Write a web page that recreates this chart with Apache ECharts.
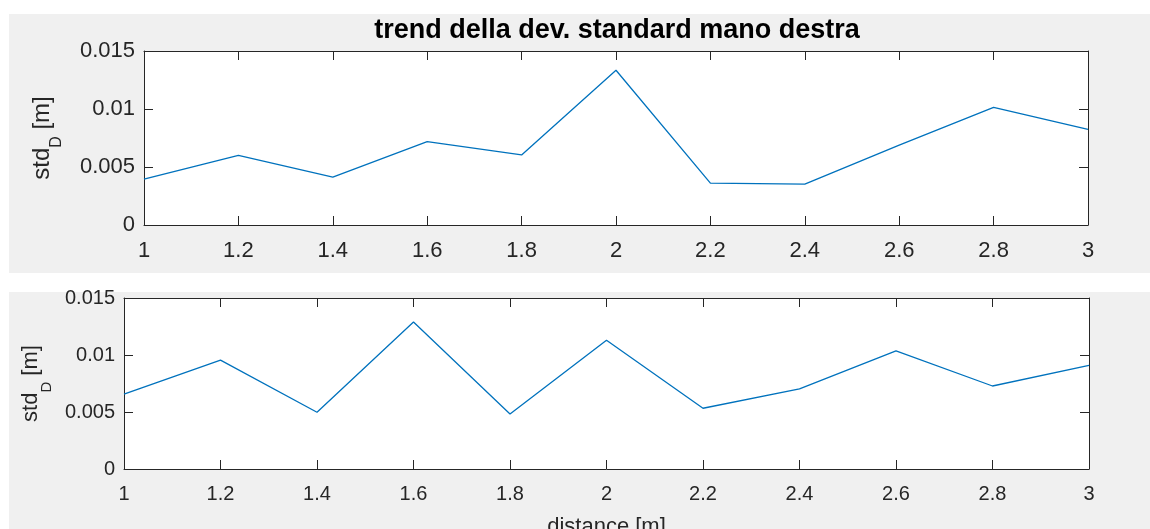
<!DOCTYPE html>
<html>
<head>
<meta charset="utf-8">
<script src="https://cdn.jsdelivr.net/npm/echarts@6/dist/echarts.min.js"></script>
<style>
html,body{margin:0;padding:0;background:#fff;}
#chart{width:1150px;height:529px;}
</style>
</head>
<body>
<div id="chart"></div>
<script>
// ---- data ----
const distances = [1, 1.2, 1.4, 1.6, 1.8, 2, 2.2, 2.4, 2.6, 2.8, 3];
const stdTop = [0.00395, 0.0060, 0.00412, 0.00718, 0.00604, 0.01334, 0.00361, 0.00352, 0.00689, 0.01014, 0.00825];
const stdBottom = [0.00656, 0.00955, 0.00498, 0.0129, 0.00483, 0.0113, 0.00533, 0.00702, 0.01037, 0.00728, 0.00909];
const xTickLabels = ['1', '1.2', '1.4', '1.6', '1.8', '2', '2.2', '2.4', '2.6', '2.8', '3'];
const yTickLabels = ['0', '0.005', '0.01', '0.015'];
const titleText = 'trend della dev. standard mano destra';
const xLabelText = 'distance [m]';

const FONT = '"Liberation Sans", Arial, Helvetica, sans-serif';
const AXC = '#262626';
const LINEC = '#0072BD';

function fmtX(v) {
  const i = Math.round((v - 1) / 0.2);
  return xTickLabels[i] !== undefined ? xTickLabels[i] : '';
}
function fmtY(v) {
  const i = Math.round(v / 0.005);
  return yTickLabels[i] !== undefined ? yTickLabels[i] : '';
}

function xAx(grid, pos, fs, showLabel, margin, name, nameGap) {
  return {
    type: 'value', gridIndex: grid, position: pos,
    min: 1, max: 3, interval: 0.2,
    axisLine: { show: true, onZero: false, lineStyle: { color: AXC, width: 1 } },
    axisTick: { show: true, inside: true, length: 9, lineStyle: { color: AXC, width: 1 } },
    axisLabel: { show: showLabel, formatter: fmtX, color: AXC, fontSize: fs, fontFamily: FONT, margin: margin || 11 },
    splitLine: { show: false },
    name: name || '', nameLocation: 'middle', nameGap: nameGap || 0,
    nameTextStyle: { color: AXC, fontSize: 22, fontFamily: FONT }
  };
}
function yAx(grid, pos, fs, showLabel, withName, nameGap, nfs) {
  return {
    type: 'value', gridIndex: grid, position: pos,
    min: 0, max: 0.015, interval: 0.005,
    axisLine: { show: true, onZero: false, lineStyle: { color: AXC, width: 1 } },
    axisTick: { show: true, inside: true, length: 9, lineStyle: { color: AXC, width: 1 } },
    axisLabel: { show: showLabel, formatter: fmtY, color: AXC, fontSize: fs, fontFamily: FONT, margin: 9, padding: [5, 0, 0, 0] },
    splitLine: { show: false },
    name: withName ? '{n|std}{s|D}{n| [m]}' : '',
    nameLocation: 'middle', nameRotate: 90, nameGap: nameGap || 0,
    nameTextStyle: {
      color: AXC, fontFamily: FONT,
      rich: {
        n: { fontSize: nfs, fontFamily: FONT, color: AXC, lineHeight: 24, verticalAlign: 'top' },
        s: { fontSize: Math.round(nfs * 0.68), fontFamily: FONT, color: AXC, lineHeight: 16, verticalAlign: 'top', padding: [19, 0, 0, 0] }
      }
    }
  };
}

const chart = echarts.init(document.getElementById('chart'), null, { renderer: 'canvas' });
chart.setOption({
  animation: false,
  backgroundColor: '#ffffff',
  graphic: [
    { type: 'rect', z: -10, silent: true, shape: { x: 9, y: 14, width: 1141, height: 259 }, style: { fill: '#f0f0f0' } },
    { type: 'rect', z: -10, silent: true, shape: { x: 9, y: 292, width: 1141, height: 237 }, style: { fill: '#f0f0f0' } }
  ],
  title: {
    text: titleText, left: 617, top: 17, padding: 0, textAlign: 'center',
    textStyle: { fontSize: 27, fontWeight: 'bold', color: '#000', fontFamily: FONT }
  },
  grid: [
    { left: 144, top: 51, width: 944, height: 174, show: true, backgroundColor: '#fff', borderWidth: 0, containLabel: false, outerBoundsMode: 'none' },
    { left: 124, top: 298, width: 965, height: 171, show: true, backgroundColor: '#fff', borderWidth: 0, containLabel: false, outerBoundsMode: 'none' }
  ],
  xAxis: [
    xAx(0, 'bottom', 22, true, 15),
    xAx(0, 'top', 22, false),
    xAx(1, 'bottom', 20, true, 15, xLabelText, 47),
    xAx(1, 'top', 20, false)
  ],
  yAxis: [
    yAx(0, 'left', 22, true, true, 90, 24),
    yAx(0, 'right', 22, false),
    yAx(1, 'left', 20, true, true, 70, 22),
    yAx(1, 'right', 20, false)
  ],
  series: [
    {
      type: 'line', xAxisIndex: 0, yAxisIndex: 0, symbol: 'none',
      lineStyle: { color: LINEC, width: 1.3 },
      data: distances.map((d, i) => [d, stdTop[i]])
    },
    {
      type: 'line', xAxisIndex: 2, yAxisIndex: 2, symbol: 'none',
      lineStyle: { color: LINEC, width: 1.3 },
      data: distances.map((d, i) => [d, stdBottom[i]])
    }
  ]
});
</script>
</body>
</html>
